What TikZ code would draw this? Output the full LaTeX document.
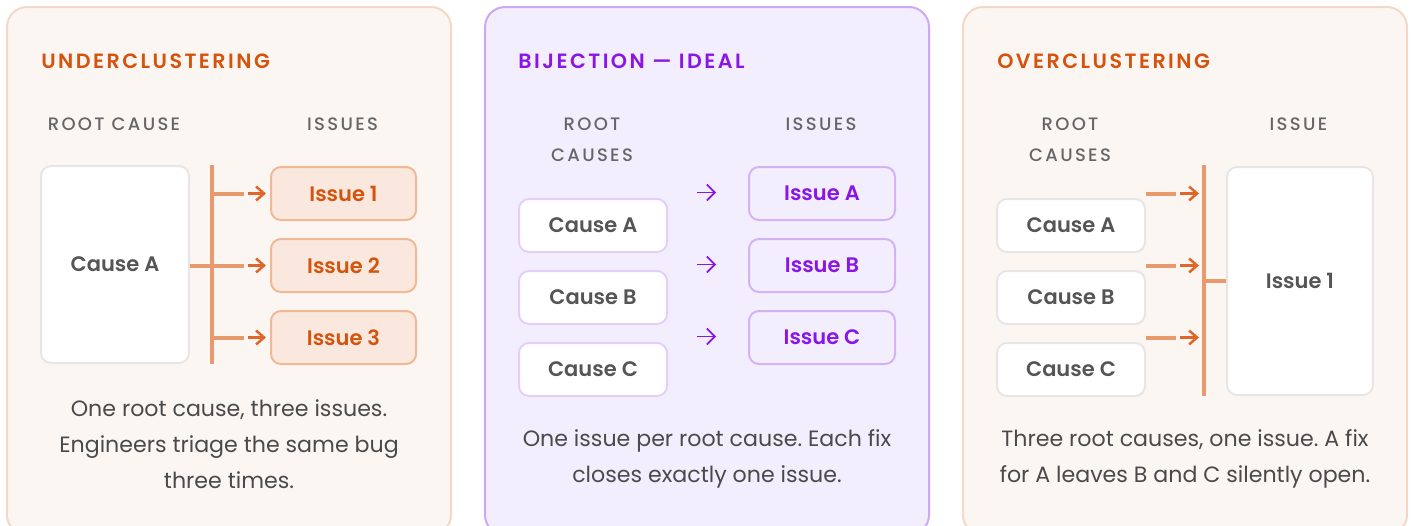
\documentclass[tikz,border=0pt]{standalone}
\usepackage{fontspec}
\setmainfont{Poppins}[BoldFont={Poppins SemiBold}]
\newfontfamily\popmed{Poppins Medium}
\usetikzlibrary{arrows.meta}
\frenchspacing

\definecolor{panelfill}{HTML}{FCF6F3}
\definecolor{panelline}{HTML}{F5D7C5}
\definecolor{purfill}{HTML}{F3EEFD}
\definecolor{purline}{HTML}{CFA8F4}
\definecolor{orangetxt}{HTML}{D4530D}
\definecolor{purtxt}{HTML}{8A16E6}
\definecolor{labelgray}{HTML}{666666}
\definecolor{bodygray}{HTML}{4A4A4A}
\definecolor{causegray}{HTML}{555555}
\definecolor{boxgray}{HTML}{E6E6E6}
\definecolor{barorange}{HTML}{E89A6C}
\definecolor{arroworange}{HTML}{E0672A}
\definecolor{issuefill}{HTML}{FAE8DF}
\definecolor{issueline}{HTML}{F0B894}
\definecolor{purbox}{HTML}{E4CFF9}
\definecolor{purissueline}{HTML}{D5B1F6}

\newcommand\titlefont{\fontsize{15.5pt}{18pt}\bfseries\addfontfeatures{LetterSpace=12}}
\newcommand\lblfont{\fontsize{13.5pt}{16pt}\popmed\addfontfeatures{LetterSpace=13}}
\newcommand\boxfont{\fontsize{15.75pt}{20pt}\bfseries}
\newcommand\bodyfont{\fontsize{16.6pt}{20pt}\selectfont\frenchspacing}

\tikzset{
  panelO/.style={draw=panelline, fill=panelfill, line width=1.5pt, rounded corners=15pt},
  panelP/.style={draw=purline, fill=purfill, line width=1.5pt, rounded corners=15pt},
  whitebox/.style={draw=boxgray, fill=white, line width=1.5pt, rounded corners=7.5pt,
    inner sep=0pt, font=\boxfont, text=causegray, minimum width=111pt, minimum height=39.75pt},
  purcause/.style={whitebox, draw=purbox},
  issueO/.style={draw=issueline, fill=issuefill, line width=1.5pt, rounded corners=7.5pt,
    inner sep=0pt, font=\boxfont, text=orangetxt, minimum width=108.75pt, minimum height=39.75pt},
  issueP/.style={issueO, draw=purissueline, fill=purfill, text=purtxt, minimum width=109.5pt},
  ttl/.style={anchor=base west, inner sep=0pt, font=\titlefont},
  lbl/.style={anchor=base, inner sep=0pt, font=\lblfont, text=labelgray},
  body/.style={anchor=base, inner sep=0pt, font=\bodyfont, text=bodygray},
  bar/.style={draw=barorange, line width=3pt},
  arrO/.style={draw=arroworange, line width=1.9pt, -{Straight Barb[length=6pt,width=10.5pt]}},
  arrP/.style={draw=purtxt, line width=1.25pt, -{Straight Barb[length=6pt,width=12pt]}}
}

\begin{document}
\begin{tikzpicture}[x=0.75pt, y=-0.75pt]
\useasboundingbox (0,0) rectangle (1413,525);

% ---------- Panel 1 ----------
\draw[panelO] (7,7) rectangle (451,535);
\node[ttl, text=orangetxt] (t1) at (41,68) {UNDERCLUSTERING};
\node[lbl] (l1a) at (114,130) {ROOT CAUSE};
\node[lbl] (l1b) at (342.5,130) {ISSUES};
\node[whitebox, minimum height=147.75pt] (c1) at (115,264.5) {Cause A};
\node[issueO] (i11) at (343.5,193.5) {Issue 1};
\node[issueO] (i12) at (343.5,265.5) {Issue 2};
\node[issueO] (i13) at (343.5,337.5) {Issue 3};
\coordinate (b1t) at (212,165);
\coordinate (b1b) at (212,364);
\draw[bar] (b1t) -- (b1b);
\coordinate (j11) at (244,193.5);
\coordinate (j12) at (244,265.5);
\coordinate (j13) at (244,337.5);
\draw[bar] (b1t |- j11) -- (j11);
\draw[bar] (c1.east |- j12) -- (j12);
\draw[bar] (b1t |- j13) -- (j13);
\coordinate (a11) at (248,193.5);
\coordinate (a12) at (248,265.5);
\coordinate (a13) at (248,337.5);
\draw[arrO, shorten >=3pt] (a11) -- (i11.west);
\draw[arrO, shorten >=3pt] (a12) -- (i12.west);
\draw[arrO, shorten >=3pt] (a13) -- (i13.west);
\node[body] (p1a) at (229,416.5) {One root cause, three issues.};
\node[body] (p1b) at (229,452) {Engineers triage the same bug};
\node[body] (p1c) at (229,488) {three times.};

% ---------- Panel 2 ----------
\draw[panelP] (485,7) rectangle (929,535);
\node[ttl, text=purtxt] (t2) at (518,68) {BIJECTION — IDEAL};
\node[lbl] (l2a) at (592,130) {ROOT};
\node[lbl] (l2b) at (592,161) {CAUSES};
\node[lbl] (l2c) at (821,130) {ISSUES};
\node[purcause] (c21) at (593,225.5) {Cause A};
\node[purcause] (c22) at (593,297.5) {Cause B};
\node[purcause] (c23) at (593,369.5) {Cause C};
\node[issueP] (i21) at (822,193.5) {Issue A};
\node[issueP] (i22) at (822,265.5) {Issue B};
\node[issueP] (i23) at (822,337.5) {Issue C};
\coordinate (a21) at (697,192.5);
\coordinate (a22) at (697,264.5);
\coordinate (a23) at (697,336.5);
\draw[arrP, shorten >=24pt] (a21) -- (i21.west |- a21);
\draw[arrP, shorten >=24pt] (a22) -- (i22.west |- a22);
\draw[arrP, shorten >=24pt] (a23) -- (i23.west |- a23);
\node[body] (p2a) at (707,446.5) {One issue per root cause. Each fix};
\node[body] (p2b) at (707,482) {closes exactly one issue.};

% ---------- Panel 3 ----------
\draw[panelO] (963,7) rectangle (1407,535);
\node[ttl, text=orangetxt] (t3) at (997,68) {OVERCLUSTERING};
\node[lbl] (l3a) at (1070,130) {ROOT};
\node[lbl] (l3b) at (1070,161) {CAUSES};
\node[lbl] (l3c) at (1298.5,130) {ISSUE};
\node[whitebox] (c31) at (1071,225.5) {Cause A};
\node[whitebox] (c32) at (1071,297.5) {Cause B};
\node[whitebox] (c33) at (1071,369.5) {Cause C};
\node[whitebox, minimum width=109.5pt, minimum height=171pt] (i31) at (1300,281) {Issue 1};
\coordinate (b3t) at (1204,165);
\coordinate (b3b) at (1204,396);
\draw[bar] (b3t) -- (b3b);
\coordinate (s31) at (1146,193.5);
\coordinate (s32) at (1146,265.5);
\coordinate (s33) at (1146,337.5);
\coordinate (e31) at (1176,193.5);
\coordinate (e32) at (1176,265.5);
\coordinate (e33) at (1176,337.5);
\draw[bar] (s31) -- (e31);
\draw[bar] (s32) -- (e32);
\draw[bar] (s33) -- (e33);
\coordinate (a31) at (1180,193.5);
\coordinate (a32) at (1180,265.5);
\coordinate (a33) at (1180,337.5);
\draw[arrO, shorten >=3.75pt] (a31) -- (b3t |- a31);
\draw[arrO, shorten >=3.75pt] (a32) -- (b3t |- a32);
\draw[arrO, shorten >=3.75pt] (a33) -- (b3t |- a33);
\draw[bar] (b3t |- i31) -- (i31.west);
\node[body] (p3a) at (1185,446.5) {Three root causes, one issue. A fix};
\node[body] (p3b) at (1185,482) {for A leaves B and C silently open.};
\end{tikzpicture}
\end{document}
